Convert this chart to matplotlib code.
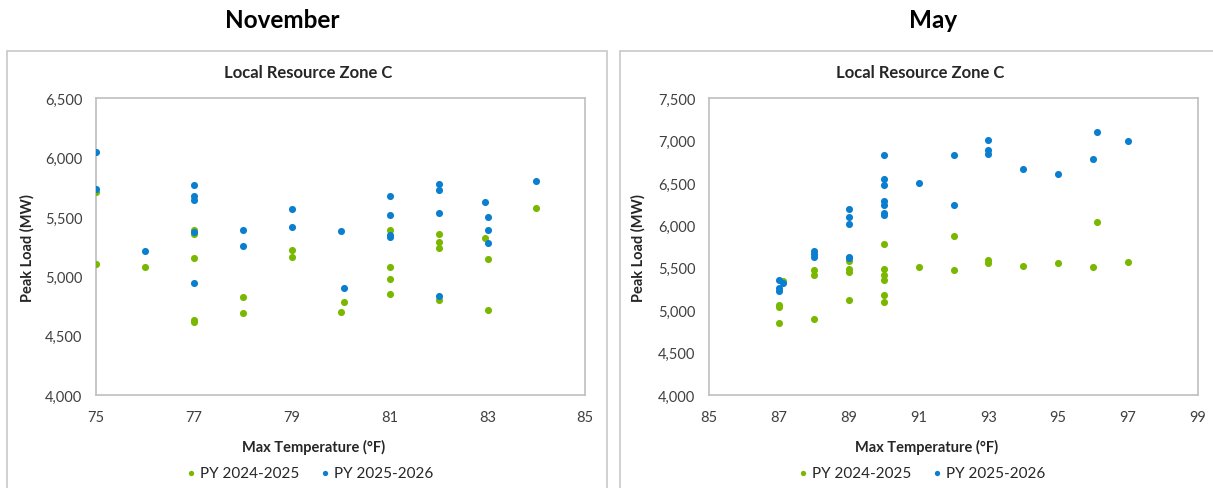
import numpy as np
import matplotlib.pyplot as plt
from matplotlib.patches import Rectangle
from matplotlib.ticker import FuncFormatter

plt.rcParams['font.family'] = ['Lato', 'DejaVu Sans']

# November data (Max Temperature F, Peak Load MW)
nov_x_24 = [75, 75, 76, 77, 77, 77, 77, 77, 78, 78, 79, 79, 80, 80.06, 81, 81, 81, 81,
            82, 82, 82, 82, 82.94, 83, 83, 84]
nov_y_24 = [5708, 5107, 5076, 5390, 5354, 5152, 4635, 4613, 4823, 4689, 5225, 5160, 4700, 4784,
            5390, 5076, 4980, 4851, 5357, 5290, 5242, 4803, 5323, 5146, 4714, 5573]
nov_x_25 = [75, 75, 76, 77, 77, 77, 77, 77, 78, 78, 79, 79, 80, 80.06, 81, 81, 81, 81,
            82, 82, 82, 82, 82.94, 83, 83, 83, 84]
nov_y_25 = [6045, 5736, 5211, 5772, 5680, 5646, 5371, 4941, 5393, 5253, 5565, 5413, 5382, 4902,
            5680, 5517, 5351, 5329, 5775, 5725, 5536, 4834, 5629, 5497, 5393, 5281, 5801]

# May data
may_x_24 = [87, 87, 87, 87.1, 88, 88, 88, 89, 89, 89, 89, 90, 90, 90, 90, 90, 90,
            91, 92, 92, 93, 93, 94, 95, 96, 96.1, 97]
may_y_24 = [5062, 5038, 4846, 5341, 5471, 5419, 4897, 5581, 5486, 5447, 5118, 5781, 5486, 5416,
            5353, 5180, 5101, 5506, 5872, 5471, 5596, 5557, 5522, 5561, 5514, 6041, 5569]
may_x_25 = [87, 87.1, 87, 87, 88, 88, 88, 89, 89, 89, 89, 89, 90, 90, 90, 90, 90, 90, 90,
            91, 92, 92, 93, 93, 93, 94, 95, 96, 96.1, 97]
may_y_25 = [5361, 5321, 5259, 5227, 5695, 5667, 5632, 6198, 6103, 6014, 5628, 5615, 6831, 6552,
            6474, 6292, 6245, 6150, 6127, 6504, 6831, 6245, 7005, 6887, 6843, 6662, 6611, 6788,
            7099, 6996]

green = '#7ab800'
blue = '#0a7fcf'
gray = '#bfbfbf'
txt = '#404040'
dark = '#262626'

fig = plt.figure(figsize=(12.13, 4.89), dpi=100)
W, H = 1213, 489

# outer chart boxes
for x0, x1 in [(7, 607), (620, 1225)]:
    fig.patches.append(Rectangle((x0 / W, -0.01), (x1 - x0) / W, 1 - 52 / H + 0.01,
                                 transform=fig.transFigure, fill=False,
                                 edgecolor='#c8c8c8', linewidth=1.2))

fig.text(282 / W, 1 - 21 / H, 'November', ha='center', va='center', fontsize=17.5, fontweight='bold')
fig.text(933 / W, 1 - 21 / H, 'May', ha='center', va='center', fontsize=17.5, fontweight='bold')

panels = [
    (96.3, 585.3, (75, 85), np.arange(75, 86, 2), (4000, 6500), nov_x_24, nov_y_24, nov_x_25, nov_y_25, 27, 308, 314, 310),
    (709.3, 1197.7, (85, 99), np.arange(85, 100, 2), (4000, 7500), may_x_24, may_y_24, may_x_25, may_y_25, 638, 920, 927, 922),
]

for left, right, xlim, xt, ylim, x24, y24, x25, y25, ylab_px, title_px, xlab_px, leg_px in panels:
    w = right - left
    ax = fig.add_axes([left / W, 1 - 396 / H, w / W, (396 - 99.3) / H])
    ax.scatter(x24, y24, s=26, color=green, label='PY 2024-2025', zorder=3, linewidths=0)
    ax.scatter(x25, y25, s=26, color=blue, label='PY 2025-2026', zorder=4, linewidths=0)
    ax.set_xlim(*xlim)
    ax.set_ylim(*ylim)
    ax.set_xticks(xt)
    ax.set_yticks(np.arange(ylim[0], ylim[1] + 1, 500))
    ax.yaxis.set_major_formatter(FuncFormatter(lambda v, p: '{:,.0f}'.format(v)))
    ax.tick_params(length=0, labelsize=10.5, colors=txt)
    ax.tick_params(axis='x', pad=11)
    ax.tick_params(axis='y', pad=10)
    for s in ax.spines.values():
        s.set_color(gray)
        s.set_linewidth(1.2)
    ax.text((title_px - left) / w, (396 - 73) / 296.7, 'Local Resource Zone C', transform=ax.transAxes,
            ha='center', va='center', fontsize=12, fontweight='bold', color=dark)
    ax.set_xlabel('Max Temperature (°F)', fontsize=10.5, fontweight='bold', color=dark)
    ax.xaxis.set_label_coords((xlab_px - left) / w, (396 - 447) / 296.7)
    ax.xaxis.label.set_va('center')
    ax.set_ylabel('Peak Load (MW)', fontsize=10.5, fontweight='bold', color=dark)
    ax.yaxis.set_label_coords((ylab_px - left) / w, 0.5)
    ax.yaxis.label.set_va('center')
    leg = ax.legend(loc='center', bbox_to_anchor=((leg_px - left) / w, (396 - 474) / 296.7), ncol=2,
                    frameon=False, fontsize=11, handlelength=0.6, handletextpad=0.3,
                    columnspacing=1.4, markerscale=0.75)
    for t in leg.get_texts():
        t.set_color(dark)

plt.savefig('out.png', dpi=100)
